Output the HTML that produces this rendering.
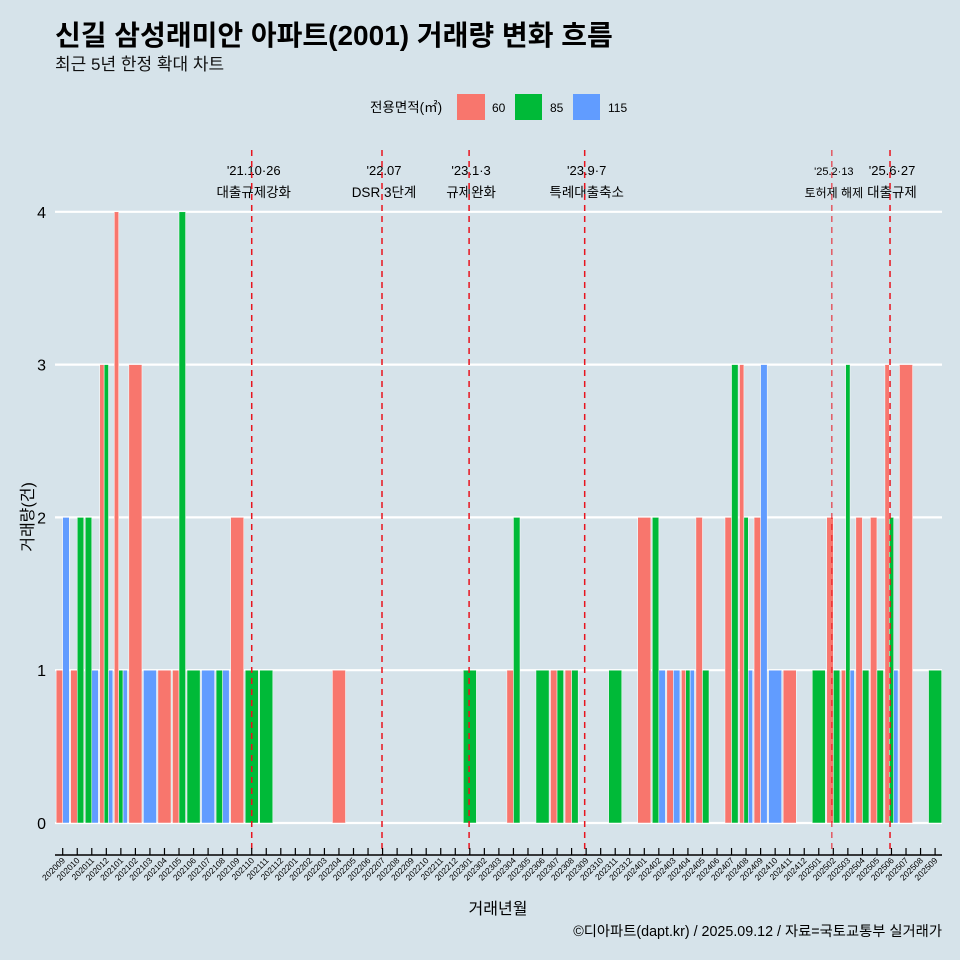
<!DOCTYPE html>
<html><head><meta charset="utf-8"><style>
body{margin:0;background:#d6e3ea;}
svg{display:block;font-family:"Liberation Sans","Noto Sans CJK KR",sans-serif;}
</style></head><body>
<svg id="c" width="960" height="960" viewBox="0 0 960 960">
<rect width="960" height="960" fill="#d6e3ea"/>
<text x="55" y="45" font-size="28" font-weight="bold" fill="#000">신길 삼성래미안 아파트(2001) 거래량 변화 흐름</text>
<text x="55" y="70" font-size="17" fill="#111">최근 5년 한정 확대 차트</text>
<g>
<text x="370" y="112" font-size="13.5">전용면적(㎡)</text>
<rect x="457" y="94" width="28" height="26" fill="#f8766d"/>
<text x="492" y="112" font-size="12">60</text>
<rect x="515" y="94" width="27" height="26" fill="#00ba38"/>
<text x="550" y="112" font-size="12">85</text>
<rect x="573" y="94" width="27" height="26" fill="#619cff"/>
<text x="608" y="112" font-size="12">115</text>
</g>
<g id="grid"></g><g id="bars"></g><g id="events"></g><g id="axes"></g>
<text transform="translate(33,517) rotate(-90)" text-anchor="middle" font-size="16">거래량(건)</text>
<text x="498" y="914" text-anchor="middle" font-size="16">거래년월</text>
<text x="942" y="936" text-anchor="end" font-size="14.3">©디아파트(dapt.kr) / 2025.09.12 / 자료=국토교통부 실거래가</text>
</svg>
<script>
const months=[];for(let y=2020,m=9;y*100+m<=202509;){months.push(String(y*100+m));m++;if(m>12){m=1;y++;}}
const sizes=["60","85","115"];
const colors={"60":"#f8766d","85":"#00ba38","115":"#619cff"};
const v60={"202009":1,"202010":1,"202012":3,"202101":4,"202102":3,"202104":1,"202105":1,"202109":2,"202204":1,"202304":1,"202307":1,"202308":1,"202401":2,"202403":1,"202404":1,"202405":2,"202407":2,"202408":3,"202409":2,"202411":1,"202502":2,"202503":1,"202504":2,"202505":2,"202506":3,"202507":3};
const v85={"202010":2,"202011":2,"202012":3,"202101":1,"202105":4,"202106":1,"202108":1,"202110":1,"202111":1,"202301":1,"202304":2,"202306":1,"202307":1,"202308":1,"202311":1,"202402":2,"202404":1,"202405":1,"202407":3,"202408":2,"202501":1,"202502":1,"202503":3,"202504":1,"202505":1,"202506":2,"202509":1};
const v115={"202009":2,"202011":1,"202012":1,"202101":1,"202103":1,"202107":1,"202108":1,"202402":1,"202403":1,"202404":1,"202408":1,"202409":3,"202410":1,"202503":1,"202506":1};
const yTicks=[0,1,2,3,4];
const events=[["'21.10·26","대출규제강화",13.0,1.5],["'22.07","DSR 3단계",21.96,1.5],["'23.1·3","규제완화",27.95,1.5],["'23.9·7","특례대출축소",35.9,1.5],["'25.2·13","토허제 해제",52.9,1],["'25.6·27","대출규제",56.9,1.5]];
const NS="http://www.w3.org/2000/svg";
const x0=62.7,step=14.54;
const xs=i=>x0+i*step;
const ys=v=>823-v*152.8;
function mk(t,a,p){const e=document.createElementNS(NS,t);for(const k in a)e.setAttribute(k,a[k]);document.getElementById(p).appendChild(e);return e;}
yTicks.forEach(t=>{
 const l=mk("line",{x1:55,x2:942,y1:ys(t),y2:ys(t),stroke:"#fff","stroke-width":2.2},"grid");
 
 
 const tx=mk("text",{x:46,y:ys(t)+6,"text-anchor":"end","font-size":16},"axes");tx.textContent=t;
 
 
});
const vals={"60":v60,"85":v85,"115":v115};
const gw=13.1;
months.forEach((m,i)=>{
 const present=sizes.filter(s=>vals[s][m]);
 const bw=gw/Math.max(present.length,1);
 present.forEach((s,j)=>{
  const v=vals[s][m];
  const r=mk("rect",{x:xs(i)-gw/2+j*bw,y:ys(v),width:bw,height:ys(0)-ys(v),fill:colors[s],stroke:"#fff","stroke-width":0.5},"bars");
  
  
 });
 const tk=mk("line",{x1:xs(i),x2:xs(i),y1:848,y2:855,stroke:"#000","stroke-width":1.2},"axes");
 
 
 const lb=mk("text",{transform:`translate(${xs(i)+3},${861}) rotate(-45)`,"text-anchor":"end","font-size":8.5},"axes");lb.textContent=m;
 
 
});
const ax=mk("line",{x1:55,x2:942,y1:855,y2:855,stroke:"#000","stroke-width":1.5},"axes");


events.forEach(e=>{
 const x=xs(e[2]);
 const t1=mk("text",{x:x+2,y:175,"text-anchor":"middle","font-size":e[3]<1.5?11:13},"events");t1.textContent=e[0];
 
 
 const t2=mk("text",{x:x+2,y:197,"text-anchor":"middle","font-size":e[3]<1.5?12:13.5},"events");t2.textContent=e[1];
 
 
 const l=mk("line",{x1:x,x2:x,y1:150,y2:855,stroke:"#e8141e","stroke-width":e[3],"stroke-dasharray":"6,5"},"events");
 
 
});
</script>
</body></html>
